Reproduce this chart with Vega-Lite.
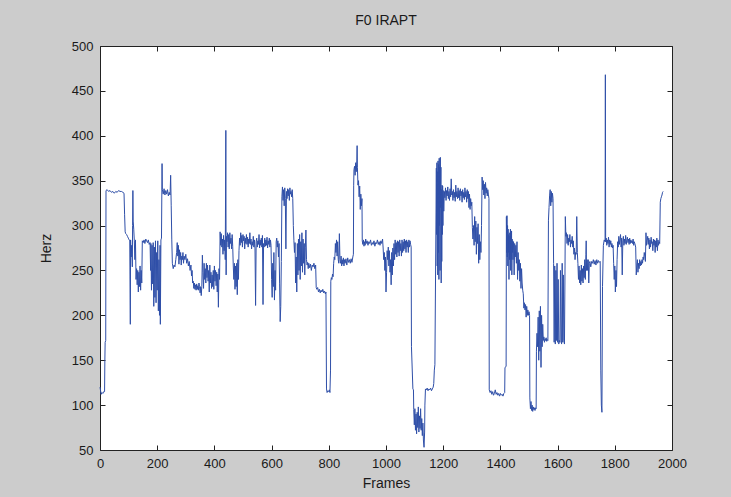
{
  "$schema": "https://vega.github.io/schema/vega-lite/v6.json",
  "width": 572,
  "height": 404,
  "autosize": "none",
  "padding": {"left": 100, "top": 46, "right": 59, "bottom": 47},
  "background": "#cccccc",
  "title": {"text": "F0 IRAPT", "fontSize": 14, "fontWeight": "normal", "font": "Liberation Sans", "color": "#1a1a1a", "offset": 12, "anchor": "middle"},
  "config": {
    "view": {"fill": "white", "stroke": "#222222", "strokeWidth": 1},
    "axis": {"grid": false, "domain": false, "zindex": 1, "ticks": true, "labelFont": "Liberation Sans", "titleFont": "Liberation Sans", "labelFontSize": 13, "titleFontSize": 14, "titleFontWeight": "normal", "labelColor": "#1a1a1a", "titleColor": "#1a1a1a", "tickColor": "#222222", "tickWidth": 1, "tickSize": 5, "offset": -5, "labelPadding": 7}
  },
  "data": {"values": [
{"f":0,"v":120},{"f":2,"v":116},{"f":4,"v":112},{"f":7,"v":114},{"f":10,"v":113},{"f":13,"v":115},{"f":16,"v":115},{"f":17,"v":150},{"f":18,"v":170},{"f":20,"v":172},{"f":21,"v":339},{"f":25,"v":340},{"f":30,"v":338},{"f":35,"v":339},{"f":40,"v":337},{"f":45,"v":338},{"f":50,"v":336},{"f":55,"v":338},{"f":60,"v":337},{"f":65,"v":339},{"f":70,"v":338},{"f":75,"v":338},{"f":80,"v":337},{"f":84,"v":336},{"f":86,"v":312},{"f":88,"v":293},{"f":90,"v":291},{"f":93,"v":290},{"f":96,"v":288},{"f":99,"v":286},{"f":102,"v":284},{"f":104,"v":283},{"f":106,"v":190},{"f":107,"v":284},{"f":109,"v":265},{"f":111,"v":278},{"f":113,"v":254},{"f":114,"v":300},{"f":115,"v":339},{"f":116,"v":305},{"f":118,"v":296},{"f":120,"v":283},{"f":122,"v":262},{"f":124,"v":284},{"f":126,"v":240},{"f":128,"v":252},{"f":130,"v":234},{"f":132,"v":250},{"f":134,"v":226},{"f":136,"v":248},{"f":138,"v":232},{"f":140,"v":255},{"f":142,"v":228},{"f":144,"v":250},{"f":146,"v":236},{"f":148,"v":283},{"f":151,"v":281},{"f":154,"v":284},{"f":157,"v":280},{"f":160,"v":285},{"f":163,"v":283},{"f":166,"v":281},{"f":169,"v":284},{"f":172,"v":279},{"f":175,"v":281},{"f":177,"v":250},{"f":178,"v":280},{"f":180,"v":228},{"f":182,"v":278},{"f":184,"v":235},{"f":186,"v":281},{"f":188,"v":210},{"f":190,"v":276},{"f":192,"v":220},{"f":194,"v":283},{"f":196,"v":214},{"f":198,"v":270},{"f":200,"v":228},{"f":202,"v":283},{"f":204,"v":205},{"f":206,"v":262},{"f":208,"v":200},{"f":210,"v":278},{"f":211,"v":190},{"f":213,"v":284},{"f":215,"v":286},{"f":217,"v":369},{"f":218,"v":340},{"f":221,"v":335},{"f":224,"v":341},{"f":227,"v":334},{"f":230,"v":339},{"f":233,"v":335},{"f":236,"v":340},{"f":239,"v":333},{"f":242,"v":337},{"f":245,"v":334},{"f":247,"v":356},{"f":249,"v":322},{"f":251,"v":284},{"f":253,"v":258},{"f":256,"v":252},{"f":259,"v":256},{"f":262,"v":254},{"f":265,"v":262},{"f":268,"v":270},{"f":270,"v":281},{"f":272,"v":266},{"f":274,"v":278},{"f":276,"v":257},{"f":278,"v":273},{"f":280,"v":262},{"f":282,"v":270},{"f":284,"v":256},{"f":286,"v":266},{"f":288,"v":262},{"f":290,"v":270},{"f":292,"v":258},{"f":294,"v":266},{"f":297,"v":262},{"f":300,"v":268},{"f":303,"v":258},{"f":306,"v":263},{"f":309,"v":255},{"f":312,"v":260},{"f":315,"v":250},{"f":318,"v":256},{"f":320,"v":244},{"f":322,"v":250},{"f":324,"v":236},{"f":326,"v":238},{"f":328,"v":230},{"f":330,"v":236},{"f":332,"v":229},{"f":334,"v":234},{"f":336,"v":228},{"f":338,"v":235},{"f":340,"v":229},{"f":342,"v":233},{"f":344,"v":228},{"f":346,"v":236},{"f":348,"v":232},{"f":350,"v":225},{"f":352,"v":232},{"f":354,"v":222},{"f":356,"v":232},{"f":358,"v":267},{"f":360,"v":248},{"f":362,"v":230},{"f":364,"v":258},{"f":366,"v":240},{"f":368,"v":252},{"f":370,"v":236},{"f":372,"v":258},{"f":374,"v":242},{"f":376,"v":256},{"f":378,"v":238},{"f":380,"v":250},{"f":382,"v":226},{"f":384,"v":256},{"f":386,"v":236},{"f":388,"v":248},{"f":390,"v":230},{"f":392,"v":245},{"f":394,"v":232},{"f":396,"v":250},{"f":398,"v":229},{"f":400,"v":255},{"f":402,"v":238},{"f":404,"v":250},{"f":406,"v":233},{"f":408,"v":248},{"f":410,"v":226},{"f":412,"v":246},{"f":414,"v":209},{"f":416,"v":252},{"f":418,"v":240},{"f":420,"v":293},{"f":422,"v":278},{"f":424,"v":291},{"f":426,"v":276},{"f":428,"v":285},{"f":430,"v":268},{"f":432,"v":289},{"f":434,"v":272},{"f":436,"v":284},{"f":438,"v":262},{"f":440,"v":406},{"f":441,"v":245},{"f":442,"v":288},{"f":444,"v":282},{"f":446,"v":292},{"f":448,"v":276},{"f":450,"v":290},{"f":452,"v":274},{"f":454,"v":292},{"f":456,"v":280},{"f":458,"v":286},{"f":460,"v":274},{"f":462,"v":290},{"f":464,"v":277},{"f":466,"v":255},{"f":468,"v":240},{"f":470,"v":258},{"f":472,"v":229},{"f":474,"v":255},{"f":476,"v":232},{"f":478,"v":258},{"f":480,"v":223},{"f":482,"v":262},{"f":484,"v":240},{"f":486,"v":272},{"f":488,"v":286},{"f":490,"v":278},{"f":492,"v":292},{"f":494,"v":281},{"f":496,"v":289},{"f":498,"v":276},{"f":500,"v":290},{"f":502,"v":283},{"f":504,"v":288},{"f":506,"v":274},{"f":508,"v":286},{"f":510,"v":280},{"f":512,"v":290},{"f":514,"v":279},{"f":516,"v":287},{"f":518,"v":276},{"f":520,"v":285},{"f":522,"v":280},{"f":524,"v":292},{"f":526,"v":279},{"f":528,"v":285},{"f":530,"v":274},{"f":532,"v":282},{"f":534,"v":278},{"f":536,"v":288},{"f":538,"v":276},{"f":540,"v":284},{"f":542,"v":274},{"f":544,"v":211},{"f":546,"v":282},{"f":548,"v":286},{"f":550,"v":276},{"f":552,"v":283},{"f":554,"v":279},{"f":556,"v":290},{"f":558,"v":275},{"f":560,"v":284},{"f":562,"v":278},{"f":564,"v":286},{"f":566,"v":276},{"f":568,"v":289},{"f":570,"v":212},{"f":572,"v":280},{"f":574,"v":276},{"f":576,"v":286},{"f":578,"v":277},{"f":580,"v":284},{"f":582,"v":278},{"f":584,"v":287},{"f":586,"v":275},{"f":588,"v":283},{"f":590,"v":279},{"f":592,"v":286},{"f":594,"v":276},{"f":596,"v":284},{"f":598,"v":278},{"f":600,"v":240},{"f":602,"v":220},{"f":604,"v":258},{"f":606,"v":232},{"f":608,"v":270},{"f":610,"v":217},{"f":612,"v":250},{"f":614,"v":228},{"f":616,"v":282},{"f":618,"v":286},{"f":620,"v":276},{"f":622,"v":283},{"f":624,"v":265},{"f":626,"v":280},{"f":628,"v":235},{"f":630,"v":193},{"f":632,"v":210},{"f":634,"v":260},{"f":636,"v":332},{"f":638,"v":343},{"f":640,"v":328},{"f":642,"v":340},{"f":644,"v":322},{"f":646,"v":342},{"f":648,"v":330},{"f":650,"v":274},{"f":652,"v":338},{"f":654,"v":330},{"f":656,"v":341},{"f":658,"v":333},{"f":660,"v":340},{"f":662,"v":328},{"f":664,"v":342},{"f":666,"v":335},{"f":668,"v":338},{"f":670,"v":332},{"f":672,"v":340},{"f":674,"v":330},{"f":676,"v":300},{"f":678,"v":283},{"f":680,"v":270},{"f":682,"v":281},{"f":684,"v":236},{"f":686,"v":265},{"f":688,"v":226},{"f":690,"v":280},{"f":692,"v":245},{"f":694,"v":285},{"f":696,"v":250},{"f":698,"v":290},{"f":700,"v":240},{"f":702,"v":282},{"f":704,"v":255},{"f":706,"v":292},{"f":708,"v":248},{"f":710,"v":285},{"f":712,"v":258},{"f":714,"v":280},{"f":716,"v":245},{"f":718,"v":276},{"f":720,"v":295},{"f":722,"v":262},{"f":724,"v":256},{"f":726,"v":259},{"f":728,"v":252},{"f":730,"v":258},{"f":733,"v":253},{"f":736,"v":257},{"f":739,"v":250},{"f":742,"v":256},{"f":745,"v":254},{"f":748,"v":258},{"f":751,"v":252},{"f":754,"v":256},{"f":756,"v":231},{"f":758,"v":229},{"f":761,"v":231},{"f":764,"v":226},{"f":767,"v":229},{"f":770,"v":225},{"f":773,"v":228},{"f":776,"v":226},{"f":779,"v":229},{"f":782,"v":225},{"f":785,"v":227},{"f":788,"v":224},{"f":790,"v":226},{"f":792,"v":118},{"f":794,"v":114},{"f":797,"v":116},{"f":800,"v":115},{"f":802,"v":117},{"f":804,"v":114},{"f":806,"v":139},{"f":807,"v":238},{"f":809,"v":242},{"f":811,"v":240},{"f":813,"v":246},{"f":815,"v":243},{"f":817,"v":258},{"f":819,"v":265},{"f":821,"v":262},{"f":823,"v":280},{"f":825,"v":270},{"f":827,"v":284},{"f":829,"v":266},{"f":831,"v":282},{"f":833,"v":262},{"f":835,"v":258},{"f":837,"v":291},{"f":839,"v":262},{"f":841,"v":258},{"f":843,"v":266},{"f":845,"v":255},{"f":847,"v":262},{"f":849,"v":257},{"f":851,"v":264},{"f":853,"v":255},{"f":855,"v":262},{"f":857,"v":258},{"f":860,"v":263},{"f":863,"v":256},{"f":866,"v":264},{"f":869,"v":259},{"f":872,"v":262},{"f":875,"v":258},{"f":878,"v":263},{"f":881,"v":259},{"f":884,"v":265},{"f":886,"v":268},{"f":887,"v":345},{"f":888,"v":362},{"f":890,"v":366},{"f":892,"v":356},{"f":894,"v":370},{"f":896,"v":360},{"f":898,"v":372},{"f":899,"v":389},{"f":900,"v":365},{"f":902,"v":345},{"f":904,"v":350},{"f":906,"v":332},{"f":908,"v":344},{"f":910,"v":318},{"f":912,"v":335},{"f":914,"v":322},{"f":916,"v":330},{"f":917,"v":283},{"f":919,"v":279},{"f":921,"v":284},{"f":923,"v":277},{"f":925,"v":282},{"f":927,"v":278},{"f":929,"v":285},{"f":931,"v":280},{"f":934,"v":283},{"f":937,"v":278},{"f":940,"v":282},{"f":943,"v":280},{"f":946,"v":284},{"f":949,"v":278},{"f":952,"v":281},{"f":955,"v":279},{"f":958,"v":283},{"f":961,"v":277},{"f":964,"v":281},{"f":967,"v":280},{"f":970,"v":284},{"f":973,"v":279},{"f":976,"v":282},{"f":979,"v":278},{"f":982,"v":283},{"f":985,"v":280},{"f":988,"v":285},{"f":990,"v":275},{"f":992,"v":262},{"f":994,"v":270},{"f":996,"v":250},{"f":998,"v":265},{"f":1000,"v":226},{"f":1002,"v":248},{"f":1004,"v":272},{"f":1006,"v":262},{"f":1008,"v":276},{"f":1010,"v":255},{"f":1012,"v":272},{"f":1014,"v":248},{"f":1016,"v":262},{"f":1018,"v":234},{"f":1020,"v":270},{"f":1022,"v":245},{"f":1024,"v":275},{"f":1026,"v":255},{"f":1028,"v":280},{"f":1030,"v":262},{"f":1032,"v":284},{"f":1034,"v":268},{"f":1036,"v":281},{"f":1038,"v":265},{"f":1040,"v":283},{"f":1042,"v":270},{"f":1044,"v":282},{"f":1046,"v":266},{"f":1048,"v":284},{"f":1050,"v":272},{"f":1052,"v":280},{"f":1054,"v":266},{"f":1056,"v":284},{"f":1058,"v":270},{"f":1060,"v":282},{"f":1062,"v":272},{"f":1064,"v":285},{"f":1066,"v":274},{"f":1068,"v":283},{"f":1070,"v":270},{"f":1072,"v":284},{"f":1074,"v":276},{"f":1076,"v":282},{"f":1078,"v":270},{"f":1080,"v":284},{"f":1082,"v":276},{"f":1084,"v":283},{"f":1086,"v":279},{"f":1088,"v":276},{"f":1089,"v":165},{"f":1094,"v":118},{"f":1096,"v":117},{"f":1097,"v":95},{"f":1099,"v":78},{"f":1101,"v":96},{"f":1103,"v":72},{"f":1105,"v":90},{"f":1107,"v":68},{"f":1109,"v":92},{"f":1111,"v":75},{"f":1113,"v":98},{"f":1115,"v":70},{"f":1117,"v":88},{"f":1119,"v":74},{"f":1121,"v":96},{"f":1123,"v":72},{"f":1125,"v":85},{"f":1127,"v":66},{"f":1129,"v":80},{"f":1131,"v":60},{"f":1133,"v":53},{"f":1135,"v":70},{"f":1136,"v":100},{"f":1138,"v":118},{"f":1141,"v":117},{"f":1144,"v":119},{"f":1147,"v":116},{"f":1150,"v":118},{"f":1153,"v":117},{"f":1156,"v":119},{"f":1159,"v":116},{"f":1162,"v":118},{"f":1165,"v":120},{"f":1167,"v":124},{"f":1169,"v":139},{"f":1171,"v":145},{"f":1176,"v":364},{"f":1177,"v":290},{"f":1178,"v":370},{"f":1179,"v":255},{"f":1180,"v":360},{"f":1181,"v":245},{"f":1182,"v":372},{"f":1183,"v":270},{"f":1184,"v":368},{"f":1185,"v":240},{"f":1186,"v":375},{"f":1187,"v":300},{"f":1188,"v":365},{"f":1189,"v":250},{"f":1190,"v":376},{"f":1191,"v":320},{"f":1192,"v":365},{"f":1193,"v":236},{"f":1194,"v":340},{"f":1195,"v":260},{"f":1196,"v":345},{"f":1197,"v":290},{"f":1198,"v":344},{"f":1199,"v":300},{"f":1200,"v":339},{"f":1202,"v":316},{"f":1204,"v":338},{"f":1206,"v":331},{"f":1208,"v":342},{"f":1210,"v":328},{"f":1212,"v":339},{"f":1214,"v":333},{"f":1216,"v":343},{"f":1218,"v":330},{"f":1220,"v":338},{"f":1222,"v":328},{"f":1224,"v":341},{"f":1226,"v":332},{"f":1228,"v":352},{"f":1230,"v":334},{"f":1232,"v":338},{"f":1234,"v":328},{"f":1236,"v":340},{"f":1238,"v":331},{"f":1240,"v":337},{"f":1242,"v":327},{"f":1244,"v":345},{"f":1246,"v":332},{"f":1248,"v":338},{"f":1250,"v":330},{"f":1252,"v":342},{"f":1254,"v":331},{"f":1256,"v":339},{"f":1258,"v":328},{"f":1260,"v":341},{"f":1262,"v":333},{"f":1264,"v":338},{"f":1266,"v":326},{"f":1268,"v":340},{"f":1270,"v":331},{"f":1272,"v":337},{"f":1274,"v":329},{"f":1276,"v":342},{"f":1278,"v":332},{"f":1280,"v":338},{"f":1282,"v":326},{"f":1284,"v":340},{"f":1286,"v":330},{"f":1288,"v":338},{"f":1290,"v":320},{"f":1292,"v":335},{"f":1294,"v":318},{"f":1296,"v":330},{"f":1298,"v":322},{"f":1300,"v":326},{"f":1302,"v":298},{"f":1304,"v":285},{"f":1306,"v":300},{"f":1308,"v":278},{"f":1310,"v":310},{"f":1312,"v":282},{"f":1314,"v":305},{"f":1316,"v":268},{"f":1318,"v":298},{"f":1320,"v":280},{"f":1322,"v":302},{"f":1324,"v":258},{"f":1326,"v":290},{"f":1328,"v":262},{"f":1330,"v":282},{"f":1332,"v":270},{"f":1334,"v":300},{"f":1336,"v":354},{"f":1338,"v":340},{"f":1340,"v":350},{"f":1342,"v":334},{"f":1344,"v":346},{"f":1346,"v":330},{"f":1348,"v":348},{"f":1350,"v":336},{"f":1352,"v":342},{"f":1354,"v":333},{"f":1356,"v":340},{"f":1358,"v":335},{"f":1360,"v":330},{"f":1361,"v":117},{"f":1364,"v":114},{"f":1367,"v":116},{"f":1370,"v":112},{"f":1373,"v":115},{"f":1376,"v":111},{"f":1379,"v":113},{"f":1382,"v":117},{"f":1385,"v":112},{"f":1388,"v":114},{"f":1391,"v":111},{"f":1394,"v":113},{"f":1397,"v":110},{"f":1400,"v":113},{"f":1403,"v":111},{"f":1406,"v":112},{"f":1409,"v":110},{"f":1412,"v":113},{"f":1415,"v":114},{"f":1416,"v":142},{"f":1420,"v":143},{"f":1421,"v":310},{"f":1422,"v":270},{"f":1423,"v":311},{"f":1424,"v":265},{"f":1425,"v":300},{"f":1426,"v":255},{"f":1427,"v":296},{"f":1428,"v":270},{"f":1429,"v":290},{"f":1430,"v":240},{"f":1431,"v":288},{"f":1432,"v":262},{"f":1433,"v":292},{"f":1434,"v":270},{"f":1435,"v":296},{"f":1436,"v":250},{"f":1437,"v":288},{"f":1438,"v":262},{"f":1439,"v":294},{"f":1440,"v":245},{"f":1441,"v":285},{"f":1442,"v":270},{"f":1443,"v":283},{"f":1444,"v":262},{"f":1446,"v":282},{"f":1448,"v":245},{"f":1450,"v":280},{"f":1452,"v":265},{"f":1454,"v":278},{"f":1456,"v":258},{"f":1458,"v":282},{"f":1460,"v":240},{"f":1462,"v":270},{"f":1464,"v":250},{"f":1466,"v":262},{"f":1468,"v":238},{"f":1470,"v":258},{"f":1472,"v":230},{"f":1474,"v":252},{"f":1476,"v":236},{"f":1478,"v":228},{"f":1480,"v":224},{"f":1482,"v":208},{"f":1484,"v":214},{"f":1486,"v":206},{"f":1488,"v":212},{"f":1490,"v":198},{"f":1492,"v":210},{"f":1494,"v":200},{"f":1496,"v":206},{"f":1498,"v":200},{"f":1500,"v":204},{"f":1502,"v":200},{"f":1503,"v":108},{"f":1505,"v":96},{"f":1507,"v":104},{"f":1509,"v":94},{"f":1511,"v":100},{"f":1513,"v":93},{"f":1515,"v":98},{"f":1517,"v":95},{"f":1519,"v":97},{"f":1521,"v":94},{"f":1523,"v":97},{"f":1525,"v":96},{"f":1526,"v":160},{"f":1528,"v":180},{"f":1530,"v":165},{"f":1532,"v":198},{"f":1534,"v":150},{"f":1536,"v":205},{"f":1538,"v":160},{"f":1540,"v":210},{"f":1542,"v":142},{"f":1544,"v":200},{"f":1546,"v":165},{"f":1548,"v":190},{"f":1550,"v":172},{"f":1552,"v":176},{"f":1554,"v":170},{"f":1556,"v":174},{"f":1558,"v":172},{"f":1560,"v":175},{"f":1562,"v":171},{"f":1564,"v":173},{"f":1566,"v":172},{"f":1568,"v":306},{"f":1570,"v":320},{"f":1572,"v":333},{"f":1574,"v":340},{"f":1576,"v":322},{"f":1578,"v":338},{"f":1580,"v":326},{"f":1582,"v":336},{"f":1584,"v":330},{"f":1586,"v":258},{"f":1588,"v":170},{"f":1590,"v":255},{"f":1592,"v":168},{"f":1594,"v":250},{"f":1596,"v":172},{"f":1598,"v":258},{"f":1600,"v":170},{"f":1602,"v":240},{"f":1604,"v":168},{"f":1606,"v":172},{"f":1608,"v":170},{"f":1610,"v":250},{"f":1612,"v":172},{"f":1614,"v":168},{"f":1616,"v":258},{"f":1618,"v":170},{"f":1620,"v":245},{"f":1622,"v":172},{"f":1624,"v":168},{"f":1626,"v":256},{"f":1627,"v":310},{"f":1629,"v":288},{"f":1631,"v":292},{"f":1633,"v":280},{"f":1635,"v":290},{"f":1637,"v":278},{"f":1639,"v":286},{"f":1641,"v":282},{"f":1643,"v":290},{"f":1645,"v":276},{"f":1647,"v":284},{"f":1649,"v":280},{"f":1651,"v":288},{"f":1653,"v":276},{"f":1655,"v":283},{"f":1657,"v":268},{"f":1659,"v":275},{"f":1661,"v":262},{"f":1663,"v":270},{"f":1665,"v":268},{"f":1667,"v":310},{"f":1669,"v":270},{"f":1671,"v":258},{"f":1673,"v":240},{"f":1675,"v":255},{"f":1677,"v":236},{"f":1679,"v":250},{"f":1681,"v":234},{"f":1683,"v":256},{"f":1685,"v":238},{"f":1687,"v":252},{"f":1689,"v":236},{"f":1691,"v":255},{"f":1693,"v":242},{"f":1695,"v":262},{"f":1697,"v":240},{"f":1699,"v":268},{"f":1700,"v":283},{"f":1701,"v":250},{"f":1703,"v":262},{"f":1705,"v":250},{"f":1707,"v":262},{"f":1709,"v":236},{"f":1711,"v":258},{"f":1713,"v":260},{"f":1716,"v":254},{"f":1719,"v":260},{"f":1722,"v":258},{"f":1725,"v":262},{"f":1728,"v":257},{"f":1731,"v":261},{"f":1734,"v":256},{"f":1737,"v":262},{"f":1740,"v":258},{"f":1743,"v":261},{"f":1746,"v":259},{"f":1749,"v":260},{"f":1751,"v":139},{"f":1753,"v":100},{"f":1755,"v":92},{"f":1757,"v":232},{"f":1760,"v":278},{"f":1763,"v":284},{"f":1766,"v":282},{"f":1767,"v":468},{"f":1768,"v":282},{"f":1770,"v":286},{"f":1772,"v":278},{"f":1774,"v":284},{"f":1776,"v":280},{"f":1778,"v":287},{"f":1780,"v":276},{"f":1782,"v":284},{"f":1784,"v":279},{"f":1786,"v":283},{"f":1788,"v":276},{"f":1790,"v":280},{"f":1792,"v":275},{"f":1794,"v":278},{"f":1796,"v":258},{"f":1798,"v":240},{"f":1800,"v":255},{"f":1802,"v":226},{"f":1804,"v":250},{"f":1806,"v":232},{"f":1808,"v":262},{"f":1810,"v":282},{"f":1812,"v":276},{"f":1814,"v":288},{"f":1816,"v":279},{"f":1818,"v":284},{"f":1820,"v":290},{"f":1822,"v":276},{"f":1824,"v":286},{"f":1826,"v":245},{"f":1828,"v":283},{"f":1830,"v":288},{"f":1832,"v":278},{"f":1834,"v":285},{"f":1836,"v":280},{"f":1838,"v":289},{"f":1840,"v":279},{"f":1842,"v":284},{"f":1844,"v":287},{"f":1846,"v":281},{"f":1848,"v":285},{"f":1850,"v":279},{"f":1852,"v":286},{"f":1854,"v":280},{"f":1856,"v":284},{"f":1858,"v":281},{"f":1860,"v":283},{"f":1862,"v":280},{"f":1864,"v":285},{"f":1866,"v":278},{"f":1868,"v":282},{"f":1870,"v":280},{"f":1873,"v":276},{"f":1875,"v":245},{"f":1877,"v":256},{"f":1879,"v":262},{"f":1881,"v":248},{"f":1883,"v":258},{"f":1885,"v":252},{"f":1887,"v":262},{"f":1889,"v":255},{"f":1891,"v":260},{"f":1893,"v":256},{"f":1895,"v":262},{"f":1897,"v":258},{"f":1899,"v":265},{"f":1901,"v":262},{"f":1903,"v":270},{"f":1905,"v":266},{"f":1907,"v":260},{"f":1909,"v":292},{"f":1911,"v":278},{"f":1913,"v":283},{"f":1915,"v":288},{"f":1917,"v":279},{"f":1919,"v":286},{"f":1921,"v":274},{"f":1923,"v":284},{"f":1925,"v":276},{"f":1927,"v":287},{"f":1929,"v":280},{"f":1931,"v":282},{"f":1933,"v":272},{"f":1935,"v":285},{"f":1937,"v":278},{"f":1939,"v":284},{"f":1941,"v":270},{"f":1943,"v":283},{"f":1945,"v":276},{"f":1947,"v":286},{"f":1949,"v":272},{"f":1951,"v":284},{"f":1953,"v":278},{"f":1955,"v":282},{"f":1957,"v":280},{"f":1959,"v":326},{"f":1961,"v":330},{"f":1963,"v":332},{"f":1965,"v":334},{"f":1967,"v":337},{"f":1969,"v":338}
  ]},
  "resolve": {"axis": {"x": "independent", "y": "independent"}},
  "layer": [
    {
      "mark": {"type": "line", "color": "#2f4fa8", "strokeWidth": 1, "interpolate": "linear"},
      "encoding": {
        "x": {"field": "f", "type": "quantitative", "scale": {"domain": [0, 2000], "nice": false, "zero": false}, "axis": {"title": "Frames", "values": [0,200,400,600,800,1000,1200,1400,1600,1800,2000], "format": "d", "titlePadding": 6, "labelFlush": false}},
        "y": {"field": "v", "type": "quantitative", "scale": {"domain": [50, 500], "nice": false, "zero": false}, "axis": {"title": "Herz", "values": [50,100,150,200,250,300,350,400,450,500], "format": "d", "titlePadding": 18, "labelFlush": false}}
      }
    },
    {
      "mark": {"type": "line", "strokeOpacity": 0},
      "encoding": {
        "x": {"field": "f", "type": "quantitative", "axis": {"orient": "top", "title": null, "labels": false, "values": [0,200,400,600,800,1000,1200,1400,1600,1800,2000]}},
        "y": {"field": "v", "type": "quantitative", "axis": {"orient": "right", "title": null, "labels": false, "values": [50,100,150,200,250,300,350,400,450,500]}}
      }
    }
  ]
}
